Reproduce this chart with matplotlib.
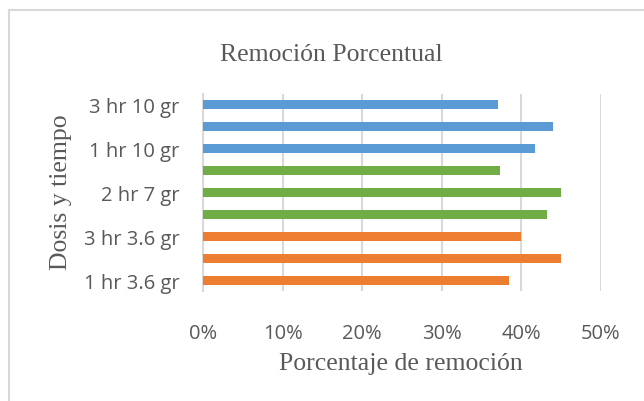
import matplotlib
matplotlib.use("Agg")
import matplotlib.pyplot as plt
from matplotlib.lines import Line2D
from matplotlib.ticker import PercentFormatter

# Data (bottom to top, as drawn)
categories = ["1 hr 3.6 gr", "2 hr 3.6 gr", "3 hr 3.6 gr",
              "1 hr 7 gr", "2 hr 7 gr", "3 hr 7 gr",
              "1 hr 10 gr", "2 hr 10 gr", "3 hr 10 gr"]
removal = [0.385, 0.450, 0.400,
           0.4325, 0.450, 0.3725,
           0.417, 0.440, 0.371]
bar_colors = ["#ED7D31"] * 3 + ["#70AD47"] * 3 + ["#5B9BD5"] * 3
x_ticks = [0.0, 0.1, 0.2, 0.3, 0.4, 0.5]

serif = "Liberation Serif"
sans = "Open Sans"
text_gray = "#595959"
grid_gray = "#D9D9D9"

W, H = 644, 402
fig = plt.figure(figsize=(W / 100, H / 100), dpi=100)
ax = fig.add_axes([203 / W, 1 - 292 / H, 398 / W, 197 / H])

ypos = list(range(len(categories)))
ax.barh(ypos, removal, height=0.41, color=bar_colors, zorder=3)

ax.set_xlim(0, 0.5)
ax.set_ylim(-0.5, len(categories) - 0.5)
ax.set_xticks(x_ticks)
ax.xaxis.set_major_formatter(PercentFormatter(1.0, decimals=0))
ax.set_yticks(ypos[::2])
ax.set_yticklabels(categories[::2])

ax.grid(axis="x", color=grid_gray, linewidth=1.5, zorder=0)
for side in ["top", "right", "bottom"]:
    ax.spines[side].set_visible(False)
ax.spines["left"].set_color(grid_gray)
ax.spines["left"].set_linewidth(1.5)
ax.tick_params(axis="both", length=0, labelsize=14.5, colors=text_gray)
ax.tick_params(axis="x", pad=23)
ax.tick_params(axis="y", pad=17)
for lbl in ax.get_xticklabels() + ax.get_yticklabels():
    lbl.set_fontfamily(sans)

fig.text(331 / W, 1 - 61 / H, "Remoción Porcentual", ha="center", va="baseline",
         fontsize=18.5, family=serif, color=text_gray)
fig.text(401 / W, 1 - 370 / H, "Porcentaje de remoción", ha="center", va="baseline",
         fontsize=18.5, family=serif, color=text_gray)
fig.text(61 / W, 1 - 192 / H, "Dosis y tiempo", ha="center", va="center",
         rotation=90, fontsize=18.5, family=serif, color=text_gray)

# light chart-area frame (only top and left edges are inside the crop)
fig.add_artist(Line2D([9 / W, 9 / W], [0, 1 - 11 / H], transform=fig.transFigure,
                      color=grid_gray, linewidth=1.5))
fig.add_artist(Line2D([9 / W, 1], [1 - 11 / H, 1 - 11 / H], transform=fig.transFigure,
                      color=grid_gray, linewidth=1.5))

fig.savefig("out.png", dpi=100)
